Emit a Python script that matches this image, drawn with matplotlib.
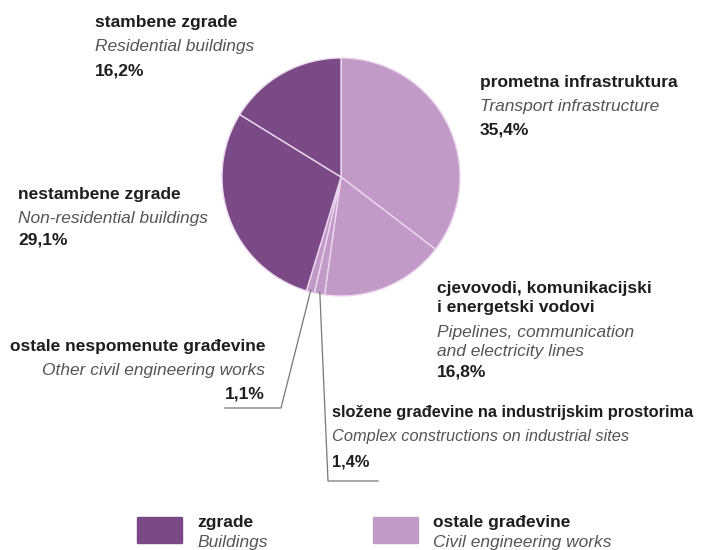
import numpy as np
import matplotlib.pyplot as plt
from matplotlib.patches import Rectangle

plt.rcParams['font.family'] = ['Liberation Sans', 'DejaVu Sans']

# slices, clockwise from the top
labels_hr = ["prometna infrastruktura",
             "cjevovodi, komunikacijski\ni energetski vodovi",
             "složene građevine na industrijskim prostorima",
             "ostale nespomenute građevine",
             "nestambene zgrade",
             "stambene zgrade"]
labels_en = ["Transport infrastructure",
             "Pipelines, communication\nand electricity lines",
             "Complex constructions on industrial sites",
             "Other civil engineering works",
             "Non-residential buildings",
             "Residential buildings"]
shares = [35.4, 16.8, 1.4, 1.1, 29.1, 16.2]
groups = ["civil", "civil", "civil", "civil", "bld", "bld"]

legend_hr = ["zgrade", "ostale građevine"]
legend_en = ["Buildings", "Civil engineering works"]

DARK = "#7a4a86"
LIGHT = "#c29ac7"
colors = {"bld": DARK, "civil": LIGHT}

W, H = 715, 550
fig = plt.figure(figsize=(7.15, 5.5), dpi=100)
ax = fig.add_axes([0, 0, 1, 1])

cx, cy, r = 341, H - 177, 119
wedges, _ = ax.pie(shares, colors=[colors[g] for g in groups], startangle=90,
                   counterclock=False, center=(cx, cy), radius=r,
                   wedgeprops=dict(edgecolor="#ecd8ee", linewidth=1.0))
ax.set_xlim(0, W)
ax.set_ylim(0, H)
ax.set_aspect("equal")
ax.axis("off")

BOLD = "#1e1e1e"
ITAL = "#555555"
FS = 12.5
LS = 1.4


def label(i, x, y_hr, y_en, y_pct, ha="left", fs=FS):
    # y values measured from the top, like the picture
    ax.text(x, H - y_hr, labels_hr[i], ha=ha, va="center", fontsize=fs,
            fontweight="bold", color=BOLD, linespacing=LS)
    ax.text(x, H - y_en, labels_en[i], ha=ha, va="center", fontsize=fs,
            style="italic", color=ITAL, linespacing=LS)
    ax.text(x, H - y_pct, f"{shares[i]:.1f}%".replace(".", ","), ha=ha,
            va="center", fontsize=fs, fontweight="bold", color=BOLD)


label(0, 480, 83, 107, 130)
label(1, 437, 298, 342, 372)
label(2, 332, 412, 437, 462, fs=11.8)
label(3, 265, 346, 370, 394, ha="right")
label(4, 18, 195, 218, 240)
label(5, 95, 23, 47, 71)


# leader lines for the two small slices
def edge_point(w, rr):
    a = np.deg2rad((w.theta1 + w.theta2) / 2)
    return cx + rr * np.cos(a), cy + rr * np.sin(a)


x0, y0 = edge_point(wedges[3], r - 2)
ax.plot([x0, 281, 225], [y0, H - 408, H - 408], color="#777777", lw=0.9)
x0, y0 = edge_point(wedges[2], r - 2)
ax.plot([x0, 328, 378], [y0, H - 481, H - 481], color="#777777", lw=0.9)

# legend
for k, (col, xs) in enumerate([(DARK, 137), (LIGHT, 373)]):
    ax.add_patch(Rectangle((xs, H - 543), 45, 26, color=col))
    ax.text(xs + 60, H - 522, legend_hr[k], fontsize=FS, fontweight="bold",
            color=BOLD, va="center")
    ax.text(xs + 60, H - 542, legend_en[k], fontsize=FS, style="italic",
            color=ITAL, va="center")

fig.savefig("out.png", dpi=100, facecolor="white")
